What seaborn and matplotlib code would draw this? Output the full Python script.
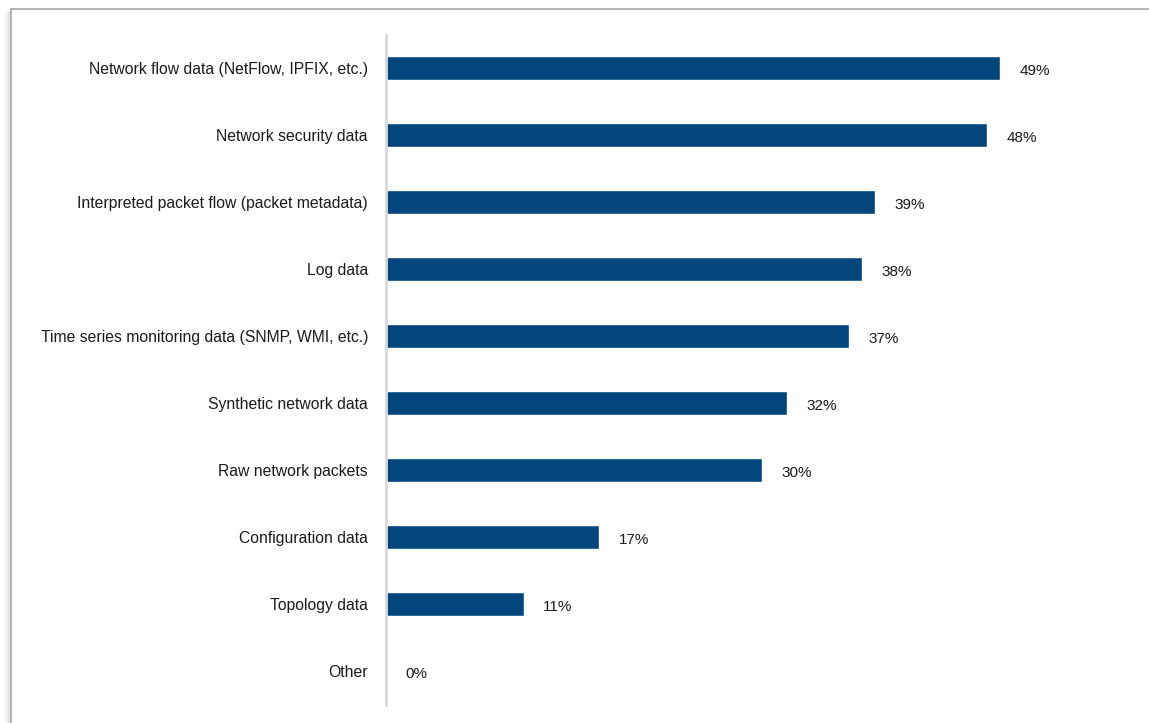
import matplotlib
matplotlib.use("Agg")
import matplotlib.pyplot as plt
from matplotlib.lines import Line2D
import seaborn as sns
import pandas as pd

categories = [
    "Network flow data (NetFlow, IPFIX, etc.)",
    "Network security data",
    "Interpreted packet flow (packet metadata)",
    "Log data",
    "Time series monitoring data (SNMP, WMI, etc.)",
    "Synthetic network data",
    "Raw network packets",
    "Configuration data",
    "Topology data",
    "Other",
]
shares = [49, 48, 39, 38, 37, 32, 30, 17, 11, 0]

df = pd.DataFrame({"category": categories, "share": shares})

sns.set_theme(style="white")
plt.rcParams["font.family"] = ["Liberation Sans Narrow", "Liberation Sans", "DejaVu Sans"]

W, H = 1149, 723
fig = plt.figure(figsize=(W / 100, H / 100), dpi=100)
ax = fig.add_axes([386 / W, 1 - 704.5 / H, 751.6 / W, 670 / H])

bar_color = "#00467C"
sns.barplot(data=df, x="share", y="category", orient="h", color=bar_color,
            width=0.35, saturation=1, ax=ax)

ax.set_xlim(0, 60)
ax.set_xlabel("")
ax.set_ylabel("")
ax.set_xticks([])
for side in ("top", "right", "bottom"):
    ax.spines[side].set_visible(False)
ax.spines["left"].set_color("#d9d9d9")
ax.spines["left"].set_linewidth(2.0)
ax.tick_params(axis="y", length=0, pad=13, labelsize=11.3, labelcolor="#1a1a1a")

value_labels = ax.bar_label(ax.containers[0], labels=[f"{v}%" for v in shares],
                            padding=14, fontsize=11, color="#1a1a1a")
for t in value_labels:
    t.xyann = (14, -2)

# frame around the chart area
fig.add_artist(Line2D([11 / W, 11 / W], [0, 1 - 9 / H], color="#a6a6a6", lw=1.2,
                      transform=fig.transFigure))
fig.add_artist(Line2D([11 / W, 1], [1 - 9 / H, 1 - 9 / H], color="#a6a6a6", lw=1.2,
                      transform=fig.transFigure))
for i, a in enumerate([0.10, 0.06, 0.03]):
    x = (9 - 2 * i) / W
    fig.add_artist(Line2D([x, x], [0, 1 - 12 / H], color="#000000", alpha=a, lw=1.5,
                          transform=fig.transFigure))

fig.savefig("out.png", dpi=100)
